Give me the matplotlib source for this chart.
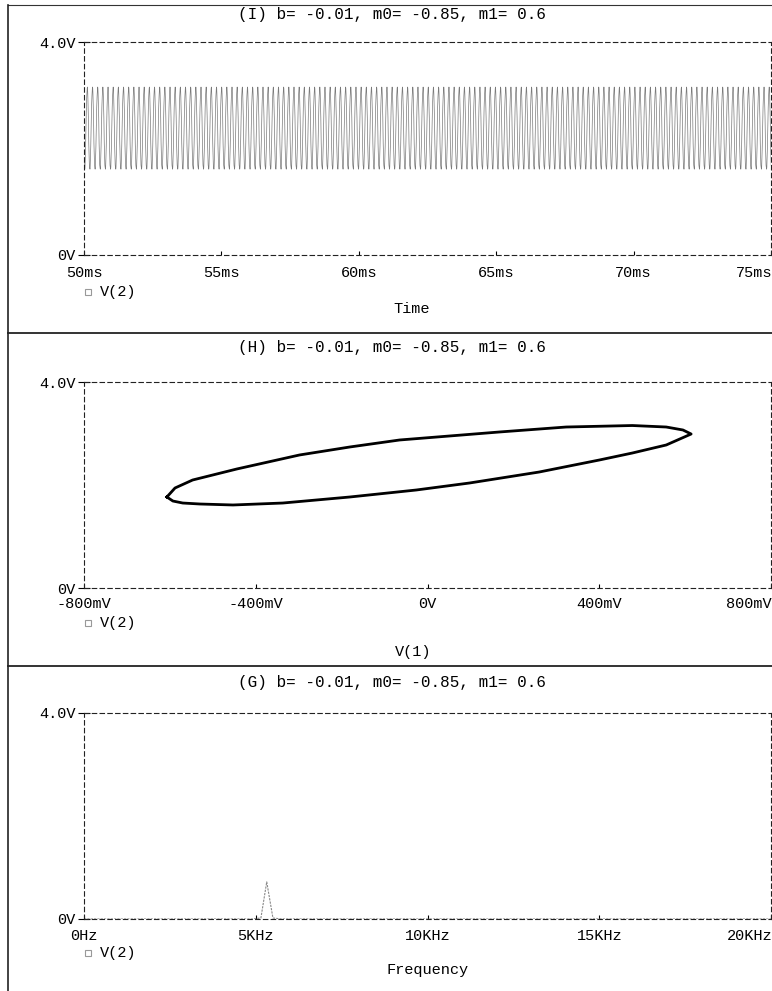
import numpy as np
import matplotlib
matplotlib.use('Agg')
import matplotlib.pyplot as plt
from matplotlib.lines import Line2D

plt.rcParams['font.family'] = ['Liberation Mono', 'DejaVu Sans Mono']
plt.rcParams['font.size'] = 11

W, H = 772, 991

# limit cycle: V(1) [V], V(2) [V]
loop_v1 = [-0.607, -0.593, -0.570, -0.530, -0.453, -0.337, -0.181, -0.026, 0.098, 0.260,
           0.400, 0.477, 0.556, 0.593, 0.614, 0.595, 0.556, 0.477, 0.323, 0.167,
           -0.065, -0.181, -0.298, -0.444, -0.547, -0.588, -0.607]
loop_v2 = [1.767, 1.689, 1.650, 1.631, 1.612, 1.650, 1.767, 1.903, 2.039, 2.252,
           2.485, 2.621, 2.777, 2.913, 2.990, 3.068, 3.126, 3.155, 3.126, 3.029,
           2.874, 2.738, 2.583, 2.311, 2.097, 1.942, 1.767]

# oscillation frequency (kHz) taken from the spectrum peak
f_osc = 5.32
t_start, t_stop = 50.0, 75.0

# spectrum of V(2), panel (G)
spec_f = [0, 4.9, 5.15, 5.32, 5.5, 5.75, 20]
spec_v = [0, 0, 0.02, 0.72, 0.02, 0, 0]

panels = [
    dict(title='(I) b= -0.01, m0= -0.85, m1= 0.6', top=42, bot=255,
         xlim=(50, 75), xt=[50, 55, 60, 65, 70, 75],
         xtl=['50ms', '55ms', '60ms', '65ms', '70ms', '75ms'],
         xlabel='Time', ty=15, lab_dy=18, leg_dy=37, xl_dy=54, xl_x=412),
    dict(title='(H) b= -0.01, m0= -0.85, m1= 0.6', top=382, bot=588,
         xlim=(-0.8, 0.8), xt=[-0.8, -0.4, 0, 0.4, 0.8],
         xtl=['-800mV', '-400mV', '0V', '400mV', '800mV'],
         xlabel='V(1)', ty=347, lab_dy=16, leg_dy=35, xl_dy=64, xl_x=413),
    dict(title='(G) b= -0.01, m0= -0.85, m1= 0.6', top=713, bot=919,
         xlim=(0, 20), xt=[0, 5, 10, 15, 20],
         xtl=['0Hz', '5KHz', '10KHz', '15KHz', '20KHz'],
         xlabel='Frequency', ty=682, lab_dy=17, leg_dy=34, xl_dy=51, xl_x=428),
]

fig = plt.figure(figsize=(W / 100, H / 100), dpi=100)

left, right = 84, 771
axes = []
for p in panels:
    ax = fig.add_axes([left / W, 1 - p['bot'] / H, (right - left) / W, (p['bot'] - p['top']) / H])
    ax.set_xlim(*p['xlim'])
    ax.set_ylim(0, 4)
    for s in ['top', 'right', 'left', 'bottom']:
        ax.spines[s].set_linestyle((0, (4, 3)))
        ax.spines[s].set_linewidth(0.8)
        ax.spines[s].set_color('#222222')
    ax.set_yticks([0, 4])
    ax.set_yticklabels(['0V', '4.0V'])
    ax.tick_params(axis='y', direction='inout', length=8, width=0.8, pad=2)
    ax.set_xticks(p['xt'])
    ax.set_xticklabels([])
    ax.tick_params(axis='x', direction='in', length=3, width=0.8)
    # x tick labels placed as in the original print, last one kept inside the window
    n = len(p['xt'])
    for i, (x, lab) in enumerate(zip(p['xt'], p['xtl'])):
        px = left + (x - p['xlim'][0]) / (p['xlim'][1] - p['xlim'][0]) * (right - left)
        ha = 'center'
        if i == n - 1:
            px, ha = 772, 'right'
        fig.text(px / W, 1 - (p['bot'] + p['lab_dy']) / H, lab, ha=ha, va='center')
    fig.text(392 / W, 1 - p['ty'] / H, p['title'], ha='center', va='center', fontsize=11.5)
    fig.text(100 / W, 1 - (p['bot'] + p['leg_dy']) / H, 'V(2)', ha='left', va='center')
    fig.add_artist(Line2D([88 / W], [1 - (p['bot'] + p['leg_dy']) / H], marker='s', ms=4,
                          mfc='none', mec='#999999', mew=0.8, transform=fig.transFigure))
    fig.text(p['xl_x'] / W, 1 - (p['bot'] + p['xl_dy']) / H, p['xlabel'], ha='center', va='center')
    axes.append(ax)

# (I) time domain: the measured cycle repeated at the oscillation frequency
cyc = np.array(loop_v2[:-1])
n_cyc = int(np.ceil((t_stop - t_start) * f_osc)) + 1
v2_t = np.tile(cyc, n_cyc)
t = t_start + np.arange(len(v2_t)) / (len(cyc) * f_osc)
axes[0].plot(t, v2_t, color='#7a7a7a', lw=0.5)

# (H) phase plane
axes[1].plot(loop_v1, loop_v2, color='black', lw=2.0, solid_joinstyle='round')

# (G) spectrum
axes[2].plot(spec_f, spec_v, color='#888888', lw=0.8, ls=(0, (2, 1)))

# window frame of the print-out
for y in [5, 333, 666]:
    fig.add_artist(Line2D([8 / W, 1], [1 - y / H, 1 - y / H], color='#333333',
                          lw=1.4 if y > 5 else 0.8, transform=fig.transFigure))
fig.add_artist(Line2D([8 / W, 8 / W], [1 - 5 / H, 0], color='#222222', lw=1.2,
                      transform=fig.transFigure))

fig.savefig('out.png', dpi=100)
